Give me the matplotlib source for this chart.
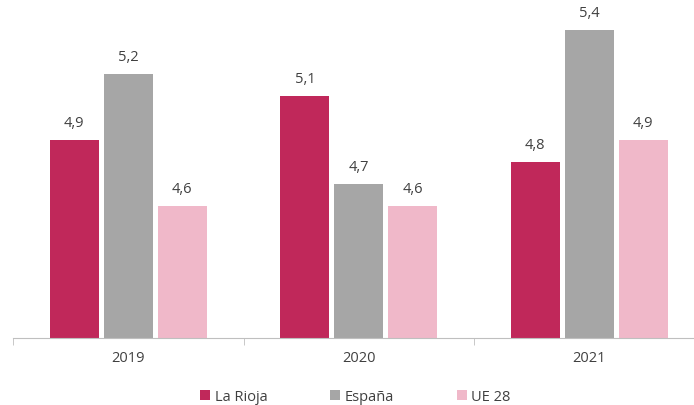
import numpy as np
import matplotlib.pyplot as plt

plt.rcParams['font.family'] = ['Open Sans', 'DejaVu Sans']

anios = ["2019", "2020", "2021"]
series = ["La Rioja", "España", "UE 28"]
la_rioja = [4.9, 5.1, 4.8]
espana = [5.2, 4.7, 5.4]
ue28 = [4.6, 4.6, 4.9]
colores = ["#C0285A", "#A6A6A6", "#F0B8C9"]

fig = plt.figure(figsize=(6.94, 4.06), dpi=100)
ax = fig.add_axes([13 / 694, 67 / 406, 691.5 / 694, 330 / 406])

x = np.arange(len(anios))
ancho = 0.2126
paso = 0.234
for i, (nombre, vals) in enumerate(zip(series, [la_rioja, espana, ue28])):
    barras = ax.bar(x + (i - 1) * paso, vals, ancho, color=colores[i], label=nombre)
    for b, v in zip(barras, vals):
        ax.text(b.get_x() + b.get_width() / 2, v + 0.045, f"{v:.1f}".replace(".", ","),
                ha="center", va="bottom", fontsize=10.5, color="#404040")

ax.set_xlim(-0.5, 2.5)
ax.set_ylim(4.0, 5.5)
ax.set_yticks([])
ax.set_xticks(x)
ax.set_xticklabels(anios, fontsize=10.5, color="#404040")
ax.set_xticks([-0.5, 0.5, 1.5, 2.5], minor=True)
ax.tick_params(axis="x", which="major", length=0, pad=9)
ax.tick_params(axis="x", which="minor", length=5, color="#BFBFBF", direction="out")
for lado in ["top", "right", "left"]:
    ax.spines[lado].set_visible(False)
ax.spines["bottom"].set_color("#BFBFBF")

fig.legend(loc="lower center", bbox_to_anchor=(0.512, -0.03), ncol=3, frameon=False,
           fontsize=10.5, handlelength=0.7, handleheight=0.7, handletextpad=0.3,
           columnspacing=4.3, labelcolor="#404040")

fig.savefig("out.png", dpi=100)
